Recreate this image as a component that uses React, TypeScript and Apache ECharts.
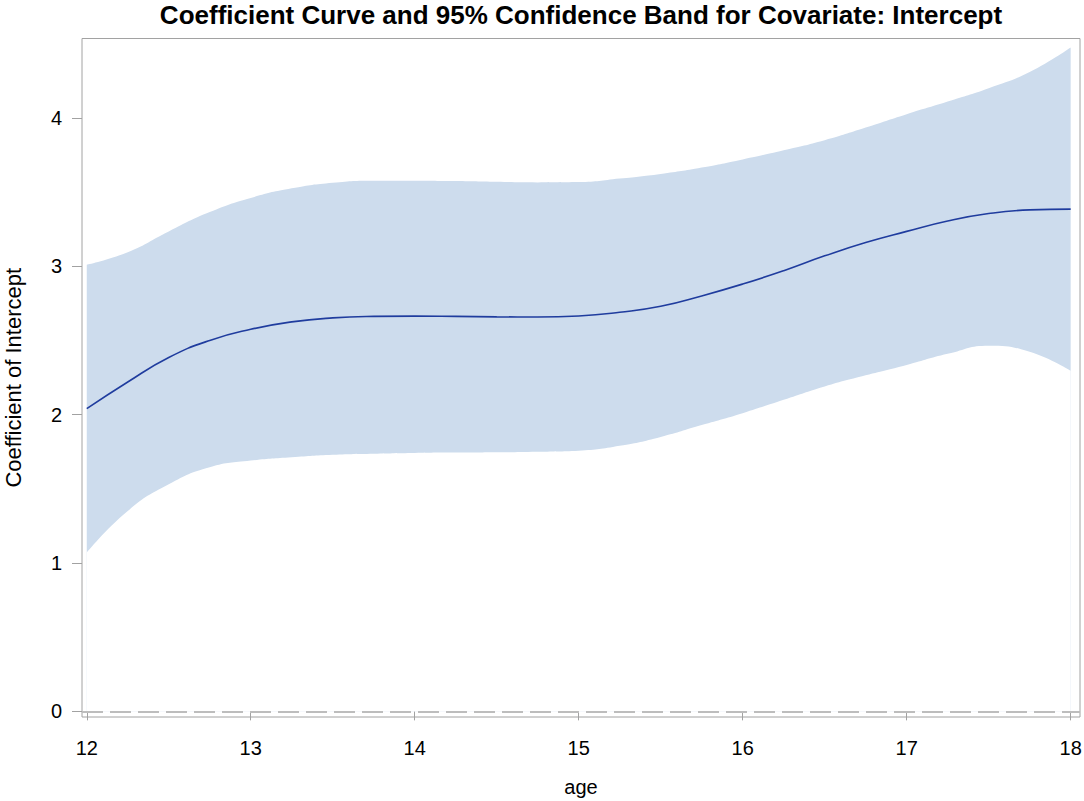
import React, { useEffect, useRef } from "react";
import * as echarts from "echarts";

const ages = [12, 12.25, 12.5, 12.75, 13, 13.25, 13.5, 13.75, 14, 14.25, 14.5, 14.75, 15, 15.25, 15.5, 15.75, 16, 16.25, 16.5, 16.75, 17, 17.25, 17.5, 17.75, 18];
const upper = [3.01, 3.095, 3.235, 3.365, 3.46, 3.525, 3.563, 3.577, 3.577, 3.574, 3.569, 3.565, 3.567, 3.591, 3.622, 3.665, 3.72, 3.782, 3.85, 3.935, 4.025, 4.11, 4.2, 4.31, 4.475];
const estimate = [2.04, 2.22, 2.385, 2.5, 2.575, 2.625, 2.652, 2.662, 2.664, 2.662, 2.659, 2.658, 2.665, 2.69, 2.73, 2.8, 2.88, 2.97, 3.07, 3.16, 3.235, 3.305, 3.355, 3.38, 3.385];
const lower = [1.07, 1.35, 1.53, 1.645, 1.69, 1.713, 1.73, 1.737, 1.742, 1.744, 1.746, 1.75, 1.757, 1.79, 1.85, 1.93, 2.01, 2.1, 2.19, 2.265, 2.335, 2.41, 2.465, 2.423, 2.295];
const xTicks = [12, 13, 14, 15, 16, 17, 18];
const yTicks = [0, 1, 2, 3, 4];

const titleText = "Coefficient Curve and 95% Confidence Band for Covariate: Intercept";
const FONT = "'Liberation Sans', Arial, Helvetica, sans-serif";

export default function App() {
  const ref = useRef<HTMLDivElement>(null);
  useEffect(() => {
    if (!ref.current) return;
    const chart = echarts.init(ref.current, null, { renderer: "svg" });
    const axisColor = "#A2A2A2";
    const bandColor = "#CDDCED";
    chart.setOption({
      animation: false,
      backgroundColor: "#ffffff",
      textStyle: { fontFamily: FONT },
      graphic: [
        {
          type: "text",
          x: 581,
          y: 15,
          style: {
            text: titleText,
            fill: "#000",
            font: `bold 26px ${FONT}`,
            textAlign: "center",
            textVerticalAlign: "middle",
          },
        },
      ],
      grid: {
        left: 82,
        right: 4,
        top: 38.5,
        bottom: 84,
        outerBoundsMode: "none",
        containLabel: false,
        show: true,
        borderColor: axisColor,
        borderWidth: 1,
        backgroundColor: "transparent",
      },
      xAxis: {
        type: "value",
        min: 11.971,
        max: 18.057,
        name: "age",
        nameLocation: "middle",
        nameGap: 60,
        nameTextStyle: { fontSize: 20, color: "#000", fontFamily: FONT },
        axisLine: { show: false },
        axisTick: { show: true, inside: false, length: 9, customValues: xTicks, lineStyle: { color: axisColor, width: 1 } },
        axisLabel: { customValues: xTicks, fontSize: 20, color: "#000", margin: 21, fontFamily: FONT },
        splitLine: { show: false },
      },
      yAxis: {
        type: "value",
        min: -0.038,
        max: 4.535,
        name: "Coefficient of Intercept",
        nameLocation: "middle",
        nameGap: 58,
        nameTextStyle: { fontSize: 22, color: "#000", fontFamily: FONT },
        axisLine: { show: false },
        axisTick: { show: true, inside: false, length: 10, customValues: yTicks, lineStyle: { color: axisColor, width: 1 } },
        axisLabel: { customValues: yTicks, fontSize: 20, color: "#000", margin: 20, fontFamily: FONT },
        splitLine: { show: false },
      },
      series: [
        {
          type: "line",
          name: "upper",
          data: ages.map((a, i) => [a, upper[i]]),
          symbol: "none",
          smooth: true,
          lineStyle: { width: 0, opacity: 0 },
          areaStyle: { color: bandColor, opacity: 1, origin: 0 },
          silent: true,
        },
        {
          type: "line",
          name: "lower",
          data: ages.map((a, i) => [a, lower[i]]),
          symbol: "none",
          smooth: true,
          lineStyle: { width: 0, opacity: 0 },
          areaStyle: { color: "#ffffff", opacity: 1, origin: 0 },
          silent: true,
        },
        {
          type: "line",
          name: "estimate",
          data: ages.map((a, i) => [a, estimate[i]]),
          symbol: "none",
          smooth: true,
          lineStyle: { color: "#1F3C9E", width: 1.6 },
          silent: true,
          markLine: {
            silent: true,
            symbol: "none",
            label: { show: false },
            lineStyle: { color: "#BDBDBD", width: 2, type: [21, 7] },
            data: [{ yAxis: 0 }],
          },
        },
      ],
    });
    return () => chart.dispose();
  }, []);
  return (
    <div
      ref={ref}
      style={{ position: "fixed", left: 0, top: 0, width: 1084, height: 801 }}
    />
  );
}
